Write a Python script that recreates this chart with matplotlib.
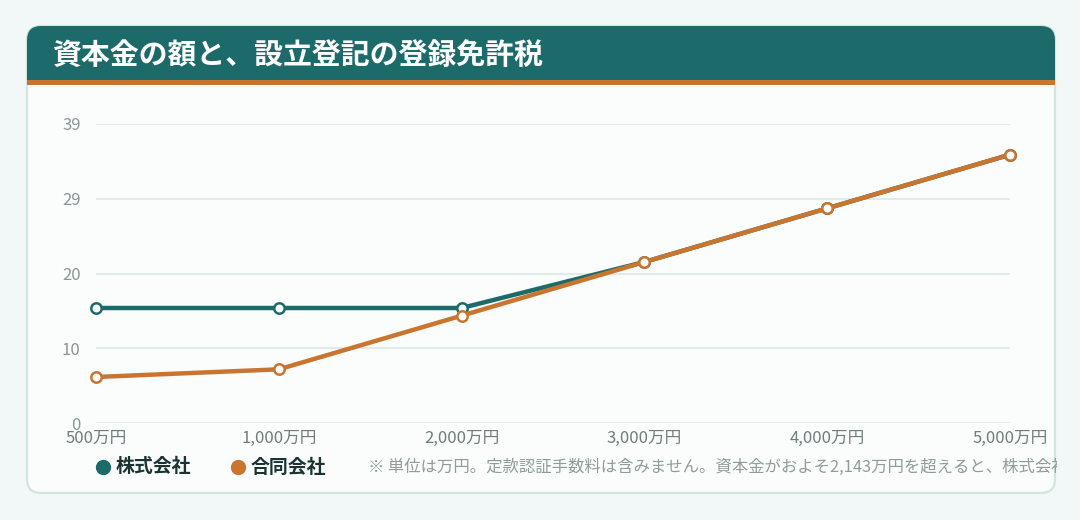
import matplotlib
matplotlib.use("Agg")
import matplotlib.pyplot as plt
from matplotlib.patches import FancyBboxPatch, Rectangle
from matplotlib.lines import Line2D
from matplotlib.transforms import Bbox, TransformedBbox

plt.rcParams['font.family'] = ['Noto Sans CJK JP', 'DejaVu Sans']

# ---- data ----
title = "資本金の額と、設立登記の登録免許税"
categories = ["500万円", "1,000万円", "2,000万円", "3,000万円", "4,000万円", "5,000万円"]
series_names = ["株式会社", "合同会社"]
kabushiki = [15, 15, 15, 21, 28, 35]
goudou = [6, 7, 14, 21, 28, 35]
y_ticks = [0, 9.75, 19.5, 29.25, 39]
y_tick_labels = ["0", "10", "20", "29", "39"]
footnote = "※ 単位は万円。定款認証手数料は含みません。資本金がおよそ2,143万円を超えると、株式会社と合同会社の登録免許税は同額になります。"

TEAL = "#1d6a6a"
ORANGE = "#c97530"
W, H = 1080, 520

fig = plt.figure(figsize=(W / 100, H / 100), dpi=100)
fig.patch.set_facecolor("#f2f8f7")

# background / card axes in pixel coords
bg = fig.add_axes([0, 0, 1, 1])
bg.set_xlim(0, W)
bg.set_ylim(H, 0)
bg.axis("off")

cx, cy, cw, ch = 27, 26, 1028, 467
card = FancyBboxPatch((cx, cy), cw, ch, boxstyle="round,pad=0,rounding_size=14",
                      facecolor="#fafdfc", edgecolor="#d3e4e1", linewidth=1.6, zorder=1)
bg.add_patch(card)
header = Rectangle((cx, cy), cw, 54, facecolor=TEAL, edgecolor="none", zorder=2)
bg.add_patch(header)
header.set_clip_path(card)
stripe = Rectangle((cx, cy + 54), cw, 5, facecolor=ORANGE, edgecolor="none", zorder=3)
bg.add_patch(stripe)
stripe.set_clip_path(card)
bg.text(52, 55, title, color="white", fontsize=20.8, fontweight="bold",
        va="center", ha="left", zorder=4)

# legend
leg_y = 467
for x_dot, name, col in [(103, series_names[0], TEAL), (238, series_names[1], ORANGE)]:
    bg.add_line(Line2D([x_dot], [leg_y], marker="o", markersize=10, color=col,
                       markeredgecolor=col, linestyle="none", zorder=4))
    bg.text(x_dot + 13, leg_y, name, fontsize=13.6, fontweight="bold", color="#1b3431",
            va="center", ha="left", zorder=4)
fn = bg.text(368, leg_y, footnote, fontsize=11.8, color="#8f9c9a", va="center",
             ha="left", zorder=4)
fn.set_clip_box(TransformedBbox(Bbox.from_extents(cx, cy, cx + cw + 2, cy + ch), bg.transData))
fn.set_clip_on(True)

# plot axes
x0, x1, ytop, ybot = 96, 1010, 124, 423
ax = fig.add_axes([x0 / W, (H - ybot) / H, (x1 - x0) / W, (ybot - ytop) / H])
ax.set_facecolor("none")
ax.set_xlim(0, len(categories) - 1)
ax.set_ylim(0, 39)
for s in ax.spines.values():
    s.set_visible(False)
ax.set_yticks(y_ticks)
ax.set_yticklabels(y_tick_labels)
ax.set_xticks(range(len(categories)))
ax.set_xticklabels(categories)
ax.tick_params(axis="y", length=0, pad=11, labelsize=12, labelcolor="#8a9694")
ax.tick_params(axis="x", length=0, pad=5, labelsize=12, labelcolor="#6f7d7b")
ax.grid(axis="y", color="#e2ebe9", linewidth=1.5)
ax.set_axisbelow(True)

xs = list(range(len(categories)))
ax.plot(xs, kabushiki, color=TEAL, linewidth=3.2, marker="o", markersize=7.5,
        markerfacecolor="white", markeredgecolor=TEAL, markeredgewidth=1.8,
        clip_on=False, zorder=3)
ax.plot(xs, goudou, color=ORANGE, linewidth=3.2, marker="o", markersize=7.5,
        markerfacecolor="white", markeredgecolor=ORANGE, markeredgewidth=1.8,
        clip_on=False, zorder=4)

fig.savefig("out.png", dpi=100, facecolor=fig.get_facecolor())
